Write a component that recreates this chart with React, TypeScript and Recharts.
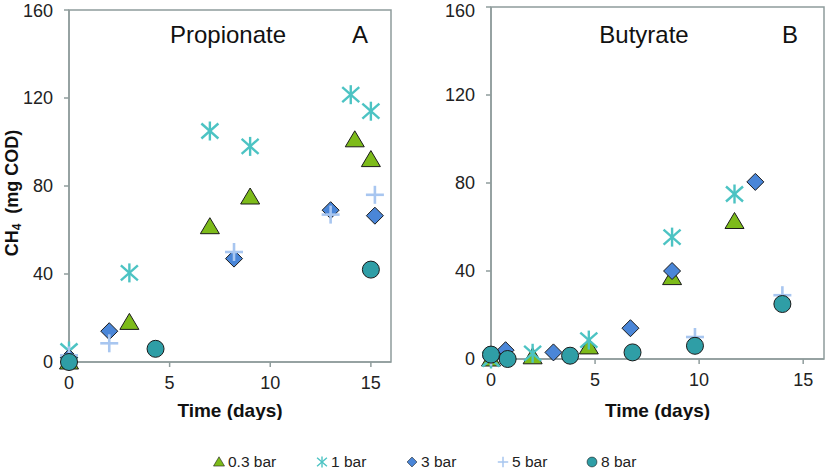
import { ScatterChart, Scatter, XAxis, YAxis, ReferenceArea } from 'recharts';

// Propionate (A)
const propDays03 = [0, 3.0, 7.0, 9.0, 14.2, 15.0];
const propVals03 = [0, 18, 61.5, 75, 101, 92];
const propDays1 = [0, 3.0, 7.0, 9.0, 14.0, 15.0];
const propVals1 = [5, 40.5, 105, 98, 121.5, 114];
const propDays3 = [0, 2.0, 8.2, 13.0, 15.2];
const propVals3 = [2, 14, 47, 69, 66.5];
const propDays5 = [0, 2.0, 8.2, 13.0, 15.2];
const propVals5 = [3, 8.5, 50, 67, 76];
const propDays8 = [0, 4.3, 15.0];
const propVals8 = [0, 6, 42];

// Butyrate (B)
const butDays03 = [0, 2.0, 4.7, 8.7, 11.7];
const butVals03 = [0, 1, 5.5, 37, 62.5];
const butDays1 = [0, 2.0, 4.7, 8.7, 11.7];
const butVals1 = [0, 2.6, 8.6, 55.4, 75];
const butDays3 = [0.7, 3.0, 6.7, 8.7, 12.7];
const butVals3 = [4, 3, 14, 40, 80.5];
const butDays5 = [0, 9.8, 14.0];
const butVals5 = [1, 10, 29];
const butDays8 = [0, 0.8, 3.8, 6.8, 9.8, 14.0];
const butVals8 = [2, 0, 1.5, 3, 6, 25];

const seriesNames = ['0.3 bar', '1 bar', '3 bar', '5 bar', '8 bar'];
const xTicks = [0, 5, 10, 15];
const yTicks = [0, 40, 80, 120, 160];

// legend item left edges (px)
const legendLeft = [213, 316, 406, 497, 586];

const FONT = '"Liberation Sans", Arial, sans-serif';
const AXIS = '#8f9c9c';

const zip = (xs: number[], ys: number[]) => xs.map((x, i) => ({ x, y: ys[i] }));

const Triangle = (p: any) => (
  <path d={`M${p.cx},${p.cy - 9}L${p.cx + 9.5},${p.cy + 7}L${p.cx - 9.5},${p.cy + 7}Z`} fill="#7dbb1a" stroke="#1a1a1a" strokeWidth={1} />
);
const Star = (p: any) => (
  <g stroke="#4cc3c3" strokeWidth={2.4}>
    <line x1={p.cx - 8.5} y1={p.cy - 7.5} x2={p.cx + 8.5} y2={p.cy + 7.5} />
    <line x1={p.cx - 8.5} y1={p.cy + 7.5} x2={p.cx + 8.5} y2={p.cy - 7.5} />
    <line x1={p.cx} y1={p.cy - 9.5} x2={p.cx} y2={p.cy + 9.5} />
  </g>
);
const Diamond = (p: any) => (
  <path d={`M${p.cx},${p.cy - 8.5}L${p.cx + 8.5},${p.cy}L${p.cx},${p.cy + 8.5}L${p.cx - 8.5},${p.cy}Z`} fill="#4a86d8" stroke="#1a1a1a" strokeWidth={1} />
);
const Plus = (p: any) => (
  <g stroke="#a8c6f0" strokeWidth={2.6}>
    <line x1={p.cx - 9} y1={p.cy} x2={p.cx + 9} y2={p.cy} />
    <line x1={p.cx} y1={p.cy - 9} x2={p.cx} y2={p.cy + 9} />
  </g>
);
const Circle = (p: any) => <circle cx={p.cx} cy={p.cy} r={8.5} fill="#2f9ea6" stroke="#1a1a1a" strokeWidth={1} />;

const shapes = [Triangle, Star, Diamond, Plus, Circle];

const YTitle = () => (
  <text transform="rotate(-90, 12, 193)" x={12} y={193} textAnchor="middle" dominantBaseline="central" fontFamily={FONT} fontWeight="bold" fontSize={18} fill="#111">
    CH<tspan fontSize={12} dy={5}>4</tspan>
    <tspan dy={-5}>{'\u00a0\u00a0(mg COD)'}</tspan>
  </text>
);

interface PanelProps {
  data: { x: number; y: number }[][];
  marginTop: number;
  marginRight: number;
  yWidth: number;
  xHeight: number;
  yTitle?: boolean;
}

function Panel({ data, marginTop, marginRight, yWidth, xHeight, yTitle }: PanelProps) {
  return (
    <ScatterChart width={410} height={420} margin={{ top: marginTop, right: marginRight, bottom: 0, left: 0 }}>
      <ReferenceArea x1={0} x2={16} y1={0} y2={160} fill="none" stroke={AXIS} strokeWidth={1.5} ifOverflow="visible" />
      <XAxis
        type="number"
        dataKey="x"
        domain={[0, 16]}
        ticks={xTicks}
        height={xHeight}
        stroke={AXIS}
        strokeWidth={1.5}
        tickSize={5}
        tickMargin={9}
        tick={{ fill: '#222', fontSize: 18, fontFamily: FONT }}
        label={{ value: 'Time (days)', position: 'insideBottom', offset: 3, fill: '#111', fontSize: 19, fontWeight: 'bold', fontFamily: FONT }}
      />
      <YAxis
        type="number"
        dataKey="y"
        domain={[0, 160]}
        ticks={yTicks}
        width={yWidth}
        stroke={AXIS}
        strokeWidth={1.5}
        tickSize={5}
        tickMargin={11}
        tick={{ fill: '#222', fontSize: 18, fontFamily: FONT }}
        label={yTitle ? <YTitle /> : undefined}
      />
      {data.map((d, i) => (
        <Scatter key={seriesNames[i]} name={seriesNames[i]} data={d} shape={shapes[i]} isAnimationActive={false} />
      ))}
    </ScatterChart>
  );
}

const LegendIcon = ({ i }: { i: number }) => {
  const S = shapes[i];
  return (
    <svg width={12} height={12} style={{ marginRight: 3 }}>
      <g transform="translate(6,6) scale(0.58) translate(-6,-6)">
        <S cx={6} cy={6} />
      </g>
    </svg>
  );
};

const text = (s: string, left: number, top: number, size: number) => (
  <div style={{ position: 'absolute', left, top, width: 0, fontFamily: FONT, fontSize: size, lineHeight: `${size}px`, color: '#111', whiteSpace: 'nowrap', display: 'flex', justifyContent: 'center' }}>
    {s}
  </div>
);

export default function App() {
  const prop = [zip(propDays03, propVals03), zip(propDays1, propVals1), zip(propDays3, propVals3), zip(propDays5, propVals5), zip(propDays8, propVals8)];
  const but = [zip(butDays03, butVals03), zip(butDays1, butVals1), zip(butDays3, butVals3), zip(butDays5, butVals5), zip(butDays8, butVals8)];
  return (
    <div style={{ position: 'absolute', left: 0, top: 0, width: 825, height: 469, background: '#fff', fontFamily: FONT, overflow: 'hidden' }}>
      <div style={{ position: 'absolute', left: 0, top: 0 }}>
        <Panel data={prop} marginTop={10} marginRight={19} yWidth={69} xHeight={58} yTitle />
      </div>
      <div style={{ position: 'absolute', left: 415, top: 0 }}>
        <Panel data={but} marginTop={7} marginRight={1} yWidth={76} xHeight={61} />
      </div>
      {text('Propionate', 228, 23, 24)}
      {text('A', 360, 23, 24)}
      {text('Butyrate', 644, 23, 24)}
      {text('B', 790, 23, 24)}
      {seriesNames.map((n, i) => (
        <div key={n} style={{ position: 'absolute', left: legendLeft[i], top: 454, height: 15, display: 'flex', alignItems: 'center', fontSize: 15.5, lineHeight: '15px', color: '#222' }}>
          <LegendIcon i={i} />
          <span>{n}</span>
        </div>
      ))}
    </div>
  );
}
